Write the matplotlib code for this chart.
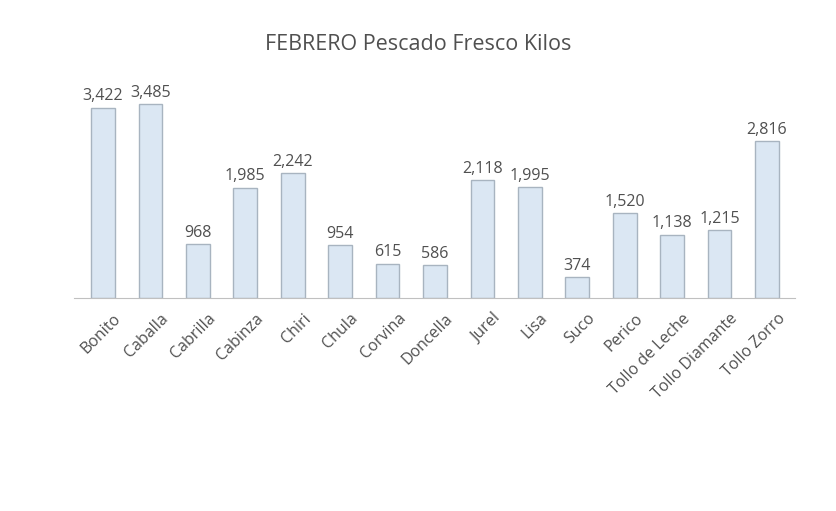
import numpy as np
import matplotlib
matplotlib.use("Agg")
import matplotlib.pyplot as plt
from matplotlib.transforms import ScaledTranslation

especies = ["Bonito", "Caballa", "Cabrilla", "Cabinza", "Chiri", "Chula", "Corvina",
            "Doncella", "Jurel", "Lisa", "Suco", "Perico", "Tollo de Leche",
            "Tollo Diamante", "Tollo Zorro"]
kilos = [3422, 3485, 968, 1985, 2242, 954, 615, 586, 2118, 1995, 374, 1520, 1138, 1215, 2816]

plt.rcParams['font.family'] = ['Open Sans', 'DejaVu Sans']

fig = plt.figure(figsize=(8.37, 5.11), dpi=100)
ax = fig.add_axes([74.5/837, 213/511, 721/837, 228/511])

x = np.arange(len(especies))
bars = ax.bar(x, kilos, width=0.5, color='#dbe7f3', edgecolor='#a8b4c0', linewidth=1.0)
for xi, v in zip(x, kilos):
    ax.text(xi, v + 60, f"{v:,}", ha='center', va='bottom', fontsize=11.5, color='#505050')

ax.set_xlim(-0.6, len(especies) - 0.4)
ax.set_ylim(0, 4100)
ax.set_xticks(x)
ax.set_xticklabels(especies, rotation=45, ha='right', rotation_mode='anchor',
                   fontsize=11.5, color='#505050')
ax.tick_params(axis='x', length=0, pad=9)
shift = ScaledTranslation(10/100, 0, fig.dpi_scale_trans)
for lbl in ax.get_xticklabels():
    lbl.set_transform(lbl.get_transform() + shift)
ax.set_yticks([])
for s in ['top', 'right', 'left']:
    ax.spines[s].set_visible(False)
ax.spines['bottom'].set_color('#c0c0c0')

fig.text(0.5, 1 - 45/511, "FEBRERO Pescado Fresco Kilos", ha='center', va='center',
         fontsize=15.5, color='#505050')

fig.savefig("out.png", dpi=100)
